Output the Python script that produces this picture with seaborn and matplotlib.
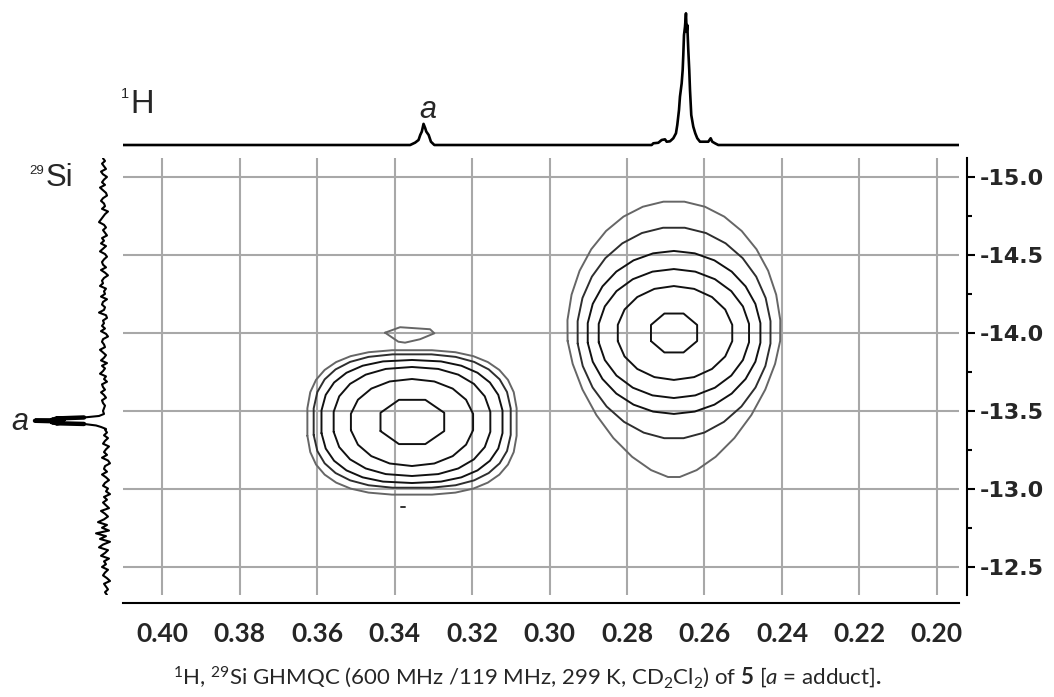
import numpy as np
import matplotlib
matplotlib.use("Agg")
import matplotlib.pyplot as plt
import seaborn as sns

# 1H projection (top trace): chemical shift in ppm, relative intensity
h_ppm = [0.4101, 0.33598, 0.33469, 0.33381, 0.33337, 0.33296, 0.33252, 0.33208,
         0.33182, 0.33120, 0.33061, 0.32973,
         0.27363, 0.27321, 0.27192, 0.27105, 0.27020, 0.26976, 0.26891, 0.26805,
         0.26736, 0.26702, 0.26658, 0.26633, 0.26589, 0.26563, 0.26547, 0.26529,
         0.26503, 0.26478, 0.26460, 0.26444, 0.26418, 0.26393, 0.26374, 0.26341,
         0.26289, 0.26238, 0.26186, 0.26116, 0.25902, 0.25840, 0.25799, 0.25729,
         0.25644, 0.1943]
h_int = [0, 0, 0.018, 0.038, 0.076, 0.102, 0.160, 0.127,
         0.102, 0.076, 0.025, 0,
         0, 0.013, 0.017, 0.038, 0.043, 0.025, 0.028, 0.051,
         0.089, 0.152, 0.265, 0.366, 0.467, 0.568, 0.682, 0.833,
         0.896, 0.998, 0.858, 0.909, 0.720, 0.568, 0.417, 0.227,
         0.139, 0.089, 0.051, 0.025, 0.025, 0.051, 0.025, 0.013,
         0, 0]

# 29Si projection (left trace): noise above / below the adduct signal and the signal itself
si_upper = [1, -1, 2, 0, -2, 3, 1, -3, 0, 2, -1, 4, 1, -2, -3, 1, 3, 0, -1, 2, -4, -1,
            1, 3, 5, 0, -2, 1, -1, -3, 2, 0, 3, -2, 1, 4, -1, -3, 0, 2, 1, -2, 3, -1,
            -4, 0, 2, 1, 4, -2, 0, -1, 3, -3, 1, 2, -1, 0, 5, -2, -3, 1, 0, 2, -1, 3,
            -2, -4, 1, 2, 0, -1, 4, 1, -2, 0, 3, -3, 2, -1, 1, 4, -2, 0, -3, 2, 1, -1,
            3, 0, -2, 2, 1, -1, 0, 1]
si_lower = [-1, -3, 0, -4, -1, 1, -5, -2, 0, -3, 2, -4, -6, -1, 0, -3, 2, -2, -5, -1,
            1, -4, -2, -6, 0, -3, 1, -2, -5, 3, -1, -4, 0, 6, -3, 2, -5, 8, -2, 4, -6,
            1, 5, -4, -1, 3, -5, 0, -2, 2, -4, -1, 1, -3, -6, 0, -2, -4, -1, -3]
spike_ppm = [-13.4808, -13.4679, -13.4583, -13.4519, -13.4468, -13.4436, -13.4404,
             -13.4372, -13.4340, -13.4308, -13.4276, -13.4244, -13.4212, -13.4167,
             -13.4071, -13.3974, -13.3846]
spike_int = [0, 5, 20, 48, 40, 52, 45, 69, 50, 47, 52, 44, 48, 20, 8, 3, -2]

# cross peaks: centre and extent of each contour ring (1H ppm, 29Si ppm)
adduct_center = (0.3355, -13.43)
adduct_xhi = [0.3443, 0.3515, 0.3559, 0.3590, 0.3610, 0.3626]
adduct_xlo = [0.3265, 0.3195, 0.3151, 0.3120, 0.3099, 0.3084]
adduct_ytop = [-13.583, -13.705, -13.782, -13.827, -13.865, -13.891]
adduct_ybot = [-13.276, -13.147, -13.083, -13.038, -13.006, -12.962]
adduct_round = [2.0, 2.1, 2.3, 2.5, 2.7, 2.8]
adduct_bump_x = [0.34245, 0.33858, 0.33084, 0.32973, 0.33342, 0.33729, 0.33902, 0.34245]
adduct_bump_y = [-14.002, -14.037, -14.024, -13.998, -13.960, -13.938, -13.944, -14.002]

main_center = (0.2679, -14.0)
main_xhi = [0.2743, 0.2826, 0.2875, 0.2903, 0.2929, 0.2955]
main_xlo = [0.2614, 0.2526, 0.2483, 0.2454, 0.2428, 0.2403]
main_ytop = [-14.135, -14.301, -14.410, -14.526, -14.679, -14.846]
main_ybot = [-13.865, -13.699, -13.583, -13.481, -13.321, -13.071]
main_round = [2.0, 2.0, 2.0, 2.0, 2.0, 2.0]
main_round_bot = [2.0, 2.0, 2.0, 2.0, 1.9, 1.6]

ring_colors = ['#111111', '#111111', '#111111', '#111111', '#2e2e2e', '#666666']
ring_points = [8, 18, 22, 26, 28, 32]

h_ticks = [0.40, 0.38, 0.36, 0.34, 0.32, 0.30, 0.28, 0.26, 0.24, 0.22, 0.20]
si_ticks = [-15.0, -14.5, -14.0, -13.5, -13.0, -12.5]

sns.set_style("white")
plt.rcParams['font.family'] = ['Liberation Sans', 'DejaVu Sans']
plt.rcParams.update({'mathtext.fontset': 'custom', 'mathtext.rm': 'Lato',
                     'mathtext.it': 'Lato:italic', 'mathtext.bf': 'Lato:bold'})

W, H = 1054, 697
fig = plt.figure(figsize=(W / 100, H / 100), dpi=100)


def box(x0, y0, x1, y1):
    return [x0 / W, 1 - y1 / H, (x1 - x0) / W, (y1 - y0) / H]


ax = fig.add_axes(box(123, 158, 959, 595))
ax_top = fig.add_axes(box(123, 5, 959, 152), sharex=ax)
ax_left = fig.add_axes(box(20, 158, 120, 595), sharey=ax)


def ring(c, xhi, xlo, ytop, ybot, n, nb, npts):
    cx, cy = c
    t = np.linspace(0, 2 * np.pi, npts + 1) + np.pi / npts
    co, si = np.cos(t), np.sin(t)
    a = np.where(co > 0, xhi - cx, cx - xlo)
    b = np.where(si > 0, ybot - cy, cy - ytop)
    e = np.where(si > 0, 2 / nb, 2 / n)
    return cx + a * np.sign(co) * np.abs(co) ** e, cy + b * np.sign(si) * np.abs(si) ** e


for i in range(6):
    x, y = ring(adduct_center, adduct_xhi[i], adduct_xlo[i], adduct_ytop[i], adduct_ybot[i],
                adduct_round[i], adduct_round[i], ring_points[i])
    ax.plot(x, y, color=ring_colors[i], lw=1.4)
    x, y = ring(main_center, main_xhi[i], main_xlo[i], main_ytop[i], main_ybot[i],
                main_round[i], main_round_bot[i], ring_points[i])
    ax.plot(x, y, color=ring_colors[i], lw=1.4)
ax.plot(adduct_bump_x, adduct_bump_y, color=ring_colors[5], lw=1.4)
ax.plot([0.3383, 0.3373], [-12.885, -12.885], color='#333333', lw=1.4)

# projections
sns.lineplot(x=h_ppm, y=h_int, ax=ax_top, color='black', lw=1.9, sort=False, estimator=None)
si_ppm = np.concatenate([np.linspace(-15.12, -13.50, len(si_upper)), spike_ppm,
                         np.linspace(-13.38, -12.32, len(si_lower))])
si_int = np.concatenate([si_upper, spike_int, si_lower])
sns.lineplot(x=si_int, y=si_ppm, ax=ax_left, color='black', lw=1.5, sort=False,
             estimator=None, orient='y')
# the adduct signal is drawn as a dense bundle in the reference
sns.lineplot(x=spike_int[2:-3], y=spike_ppm[2:-3], ax=ax_left, color='black', lw=3.2,
             sort=False, estimator=None, orient='y')

ax.set_xlim(0.4101, 0.1943)
ax.set_ylim(-12.32, -15.122)
ax_top.set_ylim(-0.053, 1.061)
ax_left.set_xlim(84, -16)
ax_top.axis('off')
ax_left.axis('off')

# main axes styling
for s in ['top', 'left']:
    ax.spines[s].set_visible(False)
ax.spines['right'].set_position(('outward', 5.8))
ax.spines['bottom'].set_position(('outward', 6))
for s in ['right', 'bottom']:
    ax.spines[s].set_linewidth(1.5)
    ax.spines[s].set_color('black')

ax.set_xticks(h_ticks)
ax.set_xticklabels([f'{v:.2f}' for v in h_ticks], fontfamily='Lato', fontweight='bold', fontsize=19)
ax.set_xticks(np.arange(0.20, 0.411, 0.01), minor=True)
ax.set_yticks(si_ticks)
ax.set_yticklabels([f'{v:.1f}' for v in si_ticks], fontfamily='DejaVu Sans', fontweight='bold', fontsize=16)
ax.set_yticks(np.arange(-15.0, -12.4, 0.25), minor=True)
ax.tick_params(axis='x', which='major', length=7.2, width=1.5, pad=6.5, color='black')
ax.tick_params(axis='x', which='minor', length=4.3, width=1.5, color='black')
ax.tick_params(axis='y', which='both', left=False, right=True, labelleft=False, labelright=True,
               color='black')
ax.tick_params(axis='y', which='major', length=5.8, width=1.5, pad=3.6)
ax.tick_params(axis='y', which='minor', length=3.6, width=1.5)
ax.grid(True, which='major', color='#a8a8a8', lw=1.5)
ax.set_axisbelow(True)


def ftext(px, py, s, **kw):
    fig.text(px / W, 1 - py / H, s, **kw)


ftext(121, 97.5, '1', fontsize=10.5, va='baseline', ha='left')
ftext(130, 112.6, 'H', fontsize=23.5, va='baseline', ha='left')
ftext(44, 173.5, '29', fontsize=9.5, va='baseline', ha='right')
ftext(73, 186, 'Si', fontsize=22.4, va='baseline', ha='right')
ftext(428, 118, 'a', fontsize=22, style='italic', va='baseline', ha='center')
ftext(20, 430, 'a', fontsize=22, style='italic', va='baseline', ha='center')
ftext(527, 684, r'$^{1}$H, $^{29}$Si GHMQC (600 MHz /119 MHz, 299 K, CD$_{2}$Cl$_{2}$) of '
      r'$\mathbf{5}$ [$\mathit{a}$ = adduct]$\mathbf{.}$',
      fontfamily='Lato', fontsize=16, va='baseline', ha='center')

fig.savefig('out.png', dpi=100)
